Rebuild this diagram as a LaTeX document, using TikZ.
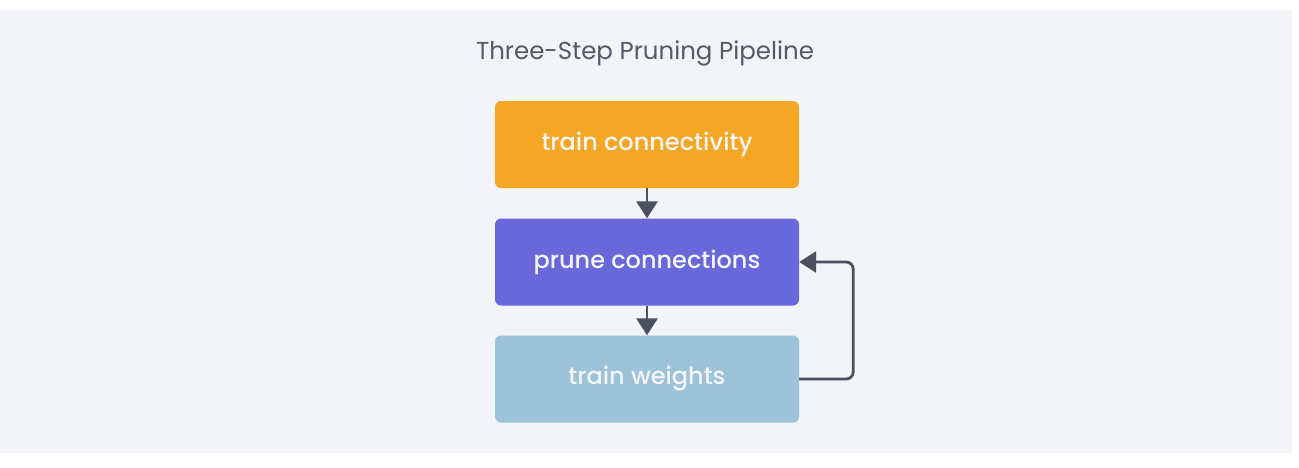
\documentclass[tikz,border=0pt]{standalone}
\usepackage{fontspec}
\setmainfont{Poppins}
\newfontfamily\labelfont{Poppins Medium}
\usepackage{xcolor}
\definecolor{ppbg}{HTML}{F3F4F8}
\definecolor{pptitle}{HTML}{555A66}
\definecolor{pporange}{HTML}{F4A724}
\definecolor{pppurple}{HTML}{6868DA}
\definecolor{ppblue}{HTML}{9CC3D7}
\definecolor{pparrow}{HTML}{4C5160}
\usepackage{tikz}
\usetikzlibrary{positioning,arrows.meta}

\tikzset{
  stagebox/.style={rounded corners=6pt, minimum width=304pt, minimum height=87pt,
    inner sep=0pt, text=white!96!black, font=\labelfont\fontsize{24}{28}\selectfont},
  flow/.style={draw=pparrow, line width=2.8pt, -{Triangle[length=17pt,width=21pt]}}
}

\begin{document}
\begin{tikzpicture}[x=1pt, y=-1pt]
  \useasboundingbox (0,0) rectangle (1299,467);
  \fill[ppbg] (0,10) rectangle (1292,453);

  \node[text=pptitle, font=\fontsize{24.5}{28}\selectfont] (title) at (645,53) {Three-Step Pruning Pipeline};

  \node[stagebox, fill=pporange] (connect) at (647,144.5) {train connectivity};
  \node[stagebox, fill=pppurple] (prune) at (647,262) {prune connections};
  \node[stagebox, fill=ppblue] (weights) at (647,379) {train weights};

  \draw[flow] (connect.south) -- (prune.north);
  \draw[flow] (prune.south) -- (weights.north);
  % retrain loop back into pruning
  \draw[flow, rounded corners=7pt] (weights.east) -- ++(54,0) |- (prune.east);
\end{tikzpicture}
\end{document}
